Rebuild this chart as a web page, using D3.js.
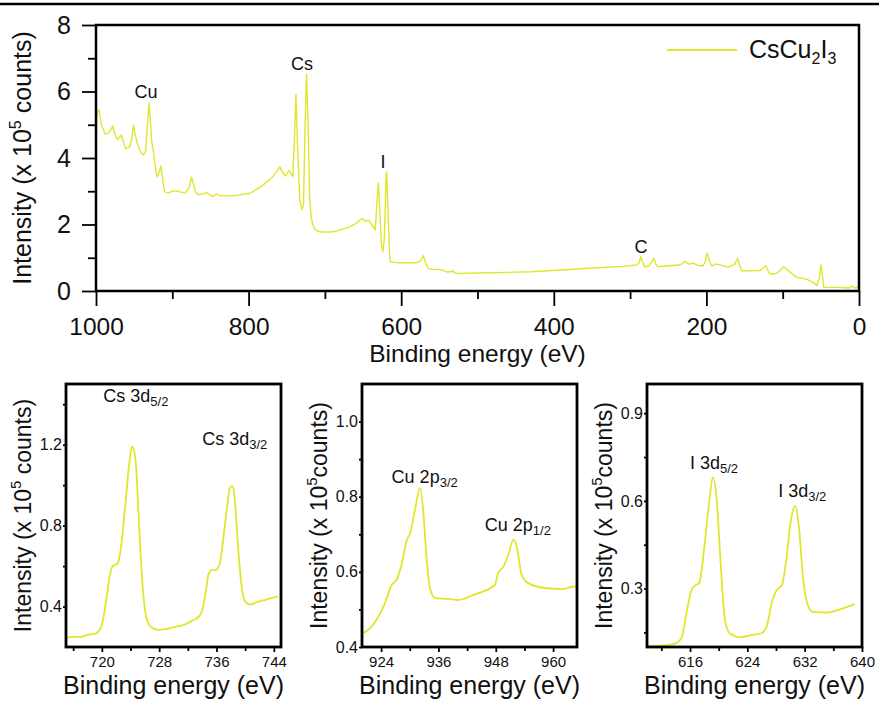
<!DOCTYPE html>
<html>
<head>
<meta charset="utf-8">
<script src="https://cdn.jsdelivr.net/npm/d3@7/dist/d3.min.js"></script>
<style>
    body { margin: 0; background: #fff; }
    svg { display: block; font-family: "Liberation Sans", Arial, sans-serif; }
</style>
</head>
<body>
<svg width="879" height="702"></svg>
<script>
// survey spectrum (eV, x 10^5 counts)
const surveyEnergy = [1000, 998, 996, 993, 988, 983, 978, 975, 972, 967, 963, 961, 956, 953, 951, 949, 946, 942, 938, 935,
    932, 930.5, 929, 927, 925, 922, 920, 917, 915, 913, 910, 905, 900, 894, 888, 883, 878, 875, 872, 869,
    865, 860, 855, 850, 847, 842, 838, 830, 820, 810, 798, 790, 780, 776, 770, 763, 759, 755, 752, 747,
    744, 742, 740, 738, 736, 733, 730, 728, 726, 724, 722, 720, 718, 716, 713, 707, 700, 689, 680, 667,
    660, 651, 647, 643, 638, 634, 632, 630, 628, 626, 624, 622, 620, 619, 617, 615, 614, 608, 602, 590,
    580, 575, 571, 568, 565, 560, 549, 539, 534, 532, 530, 527, 500, 460, 431, 390, 343, 310, 291, 288,
    286, 284, 281, 275, 271, 269, 266, 264, 250, 235, 230, 228, 225, 222, 218, 212, 205, 202, 199, 196,
    193, 189, 186, 180, 172, 169, 163, 159, 156, 154, 145, 135, 130, 125, 122, 119, 117, 112, 108, 103,
    99, 95, 88, 81, 74, 68, 60, 55, 52, 50, 48, 46, 40, 30, 20, 12, 9, 7, 5, 2, 0];
const surveyCounts = [5.05, 5.40, 5.45, 5.00, 4.72, 4.75, 4.96, 4.70, 4.55, 4.69, 4.40, 4.28, 4.33, 4.60, 4.99, 4.75, 4.45, 4.20, 4.09, 4.20,
    5.20, 5.65, 5.20, 4.50, 4.24, 3.70, 3.43, 3.60, 3.76, 3.40, 2.98, 2.95, 3.00, 3.01, 2.97, 2.95, 3.10, 3.42, 3.20, 2.95,
    2.89, 2.92, 2.96, 2.88, 2.84, 2.92, 2.87, 2.86, 2.86, 2.90, 2.94, 3.05, 3.20, 3.29, 3.40, 3.59, 3.74, 3.55, 3.46, 3.62,
    3.50, 3.44, 4.50, 5.91, 4.50, 2.74, 2.44, 2.60, 5.00, 6.52, 5.00, 2.80, 2.23, 2.00, 1.85, 1.78, 1.77, 1.78, 1.84, 1.93,
    2.02, 2.18, 2.09, 2.14, 1.98, 1.84, 2.60, 3.24, 2.40, 1.40, 1.18, 1.60, 3.30, 3.59, 2.20, 1.00, 0.88, 0.86, 0.85, 0.85,
    0.85, 0.90, 1.06, 0.85, 0.68, 0.65, 0.65, 0.57, 0.58, 0.61, 0.55, 0.53, 0.54, 0.56, 0.58, 0.63, 0.70, 0.74, 0.78, 0.85,
    1.03, 0.90, 0.73, 0.76, 0.90, 0.98, 0.80, 0.73, 0.76, 0.78, 0.85, 0.90, 0.83, 0.81, 0.84, 0.78, 0.75, 0.85, 1.14, 0.90,
    0.75, 0.80, 0.81, 0.77, 0.72, 0.75, 0.80, 0.98, 0.75, 0.61, 0.61, 0.62, 0.61, 0.70, 0.76, 0.60, 0.51, 0.52, 0.53, 0.63,
    0.73, 0.66, 0.52, 0.41, 0.38, 0.35, 0.25, 0.17, 0.40, 0.78, 0.45, 0.11, 0.11, 0.11, 0.10, 0.10, 0.15, 0.12, 0.08, 0.12, 0.18];
const surveyTicks = [1000, 800, 600, 400, 200, 0];
const surveyMinorTicks = [900, 700, 500, 300, 100];
const surveyYTicks = [0, 2, 4, 6, 8];
const surveyYMinorTicks = [1, 3, 5, 7];
const surveyLabels = ['Cu', 'Cs', 'I', 'C'];
const surveyLabelEnergy = [934.5, 730, 624, 285.7];
const surveyLabelCounts = [5.8, 6.65, 3.7, 1.14];

// Cs 3d
const csEnergy = [715, 716, 717, 718, 719, 719.8, 720.3, 720.6, 721.1, 721.5, 722.1, 722.5, 723.0, 723.4, 723.8, 724.2, 724.5, 724.8,
    725.2, 725.6, 726.0, 726.6, 727.3, 728.0, 729, 730.3, 731.5, 732.6, 733.5, 734.0, 734.4, 734.9, 735.3, 735.9, 736.5,
    737.0, 737.5, 737.9, 738.2, 738.5, 738.9, 739.5, 740.1, 740.8, 741.5, 742.5, 743.5, 744.6];
const csCounts = [0.245, 0.25, 0.25, 0.26, 0.265, 0.29, 0.36, 0.43, 0.55, 0.60, 0.61, 0.65, 0.80, 0.95, 1.10, 1.19, 1.17, 1.08,
    0.80, 0.55, 0.39, 0.31, 0.29, 0.285, 0.29, 0.30, 0.31, 0.33, 0.35, 0.38, 0.45, 0.56, 0.58, 0.58, 0.62,
    0.75, 0.90, 0.99, 0.995, 0.95, 0.75, 0.50, 0.42, 0.41, 0.42, 0.43, 0.44, 0.45];
const csXTicks = [720, 728, 736, 744];
const csXMinor = [716, 724, 732, 740];
const csYTicks = [0.4, 0.8, 1.2];
const csYMinor = [0.6, 1.0, 1.4];

// Cu 2p
const cuEnergy = [920.3, 921.7, 923.4, 924.8, 926.2, 927.3, 928.3, 929.4, 930.0, 931.1, 932.1, 932.8, 933.5, 934.2, 935.3,
    938.1, 940.1, 943.6, 947.8, 948.5, 949.6, 950.6, 951.7, 952.4, 953.4, 954.8, 958.3, 961.8, 964.4, 965];
const cuCounts = [0.437, 0.45, 0.48, 0.517, 0.565, 0.58, 0.62, 0.685, 0.70, 0.765, 0.823, 0.765, 0.64, 0.557, 0.53,
    0.528, 0.525, 0.54, 0.565, 0.597, 0.614, 0.645, 0.685, 0.667, 0.592, 0.57, 0.557, 0.554, 0.561, 0.56];
const cuXTicks = [924, 936, 948, 960];
const cuXMinor = [930, 942, 954];
const cuYTicks = [0.4, 0.6, 0.8, 1.0];
const cuYMinor = [0.5, 0.7, 0.9];

// I 3d
const iEnergy = [610.2, 613.7, 614.8, 615.5, 616.2, 616.7, 617.3, 617.9, 618.6, 619.2, 619.8, 620.3, 620.9, 621.6, 623.0,
    624.4, 626.0, 626.7, 627.4, 628.1, 628.8, 629.5, 630.0, 630.7, 631.2, 631.8, 632.5, 633.2, 635.1, 636.9, 639.0];
const iCounts = [0.103, 0.11, 0.13, 0.215, 0.295, 0.31, 0.32, 0.42, 0.58, 0.68, 0.58, 0.375, 0.19, 0.145, 0.133,
    0.14, 0.147, 0.17, 0.25, 0.295, 0.31, 0.41, 0.52, 0.583, 0.51, 0.33, 0.24, 0.22, 0.218, 0.229, 0.247];
const iXTicks = [616, 624, 632, 640];
const iXMinor = [612, 620, 628, 636];
const iYTicks = [0.3, 0.6, 0.9];
const iYMinor = [0.15, 0.45, 0.75];

// peak labels: [text, subscript, energy, counts]
const csPeaks = [['Cs 3d', '5/2', 720.2, 1.41], ['Cs 3d', '3/2', 734, 1.2]];
const cuPeaks = [['Cu 2p', '3/2', 926.2, 0.837], ['Cu 2p', '1/2', 945.7, 0.71]];
const iPeaks = [['I 3d', '5/2', 616, 0.708], ['I 3d', '3/2', 628.3, 0.613]];

(function () {
    const svg = d3.select('svg');
    const lineColor = '#e0e62c';

    const styleAxis = (g, fontSize) => {
        g.select('.domain').remove();
        g.selectAll('line').attr('stroke', '#000').attr('stroke-width', 1.8);
        g.selectAll('text')
            .attr('fill', '#111')
            .attr('font-size', fontSize)
            .attr('font-family', '"Liberation Sans", Arial, sans-serif');
    };

    const yTitle = (sel, baseX, midY, size, gap) => {
        const t = sel.append('text')
                .attr('transform', `translate(${baseX},${midY}) rotate(-90)`)
                .attr('text-anchor', 'middle')
                .attr('font-size', size)
                .attr('fill', '#111');
        t.append('tspan').text('Intensity (x 10');
        t.append('tspan').attr('font-size', size * 0.65).attr('dy', -size * 0.42).text('5');
        t.append('tspan').attr('dy', size * 0.42).text(gap ? ' counts)' : 'counts)');
    };

    svg.append('line')
            .attr('x1', 0).attr('x2', 879)
            .attr('y1', 4).attr('y2', 4)
            .attr('stroke', '#000')
            .attr('stroke-width', 2.5);

    // ---- survey ----
    const sx = d3.scaleLinear().domain([1000, 0]).range([96, 859]);
    const sy = d3.scaleLinear().domain([0, 8]).range([291, 25]);

    svg.append('g')
            .attr('transform', 'translate(0,291)')
            .call(d3.axisBottom(sx).tickValues(surveyMinorTicks).tickSize(8).tickFormat(''))
            .call(g => styleAxis(g, 24));
    svg.append('g')
            .attr('transform', 'translate(0,291)')
            .call(d3.axisBottom(sx).tickValues(surveyTicks).tickSize(15).tickFormat(d3.format('d')))
            .call(g => styleAxis(g, 24.5))
            .call(g => g.selectAll('text').attr('y', 44).attr('dy', 0));
    svg.append('g')
            .attr('transform', 'translate(96,0)')
            .call(d3.axisLeft(sy).tickValues(surveyYMinorTicks).tickSize(8).tickFormat(''))
            .call(g => styleAxis(g, 25));
    svg.append('g')
            .attr('transform', 'translate(96,0)')
            .call(d3.axisLeft(sy).tickValues(surveyYTicks).tickSize(14).tickPadding(11).tickFormat(d3.format('d')))
            .call(g => styleAxis(g, 25));

    svg.append('path')
            .datum(d3.zip(surveyEnergy, surveyCounts))
            .attr('fill', 'none')
            .attr('stroke', lineColor)
            .attr('stroke-width', 1.4)
            .attr('stroke-linejoin', 'round')
            .attr('d', d3.line().x(d => sx(d[0])).y(d => sy(d[1])));

    svg.append('rect')
            .attr('x', 96).attr('y', 25)
            .attr('width', 763).attr('height', 266)
            .attr('fill', 'none')
            .attr('stroke', '#000')
            .attr('stroke-width', 2.5);

    svg.append('g')
            .selectAll('text')
            .data(surveyLabels)
            .enter()
            .append('text')
            .attr('x', (d, i) => sx(surveyLabelEnergy[i]))
            .attr('y', (d, i) => sy(surveyLabelCounts[i]))
            .attr('text-anchor', 'middle')
            .attr('font-size', 18)
            .attr('fill', '#111')
            .text(d => d);

    svg.append('line')
            .attr('x1', 667).attr('x2', 737)
            .attr('y1', 50).attr('y2', 50)
            .attr('stroke', lineColor)
            .attr('stroke-width', 2);
    const legend = svg.append('text')
            .attr('x', 749).attr('y', 58)
            .attr('font-size', 25)
            .attr('fill', '#111');
    legend.append('tspan').text('CsCu');
    legend.append('tspan').attr('font-size', 16).attr('dy', 6).text('2');
    legend.append('tspan').attr('dy', -6).text('I');
    legend.append('tspan').attr('font-size', 16).attr('dy', 6).text('3');

    svg.append('text')
            .attr('x', (96 + 859) / 2).attr('y', 362)
            .attr('text-anchor', 'middle')
            .attr('font-size', 24.5)
            .attr('fill', '#111')
            .text('Binding energy (eV)');
    yTitle(svg, 31, 158, 25, true);

    // ---- detail panels ----
    const drawPanel = (p) => {
        const top = 384, bottom = 647;
        const x = d3.scaleLinear().domain(p.xDomain).range([p.left, p.left + 215]);
        const y = d3.scaleLinear().domain(p.yDomain).range([bottom, top]);
        const g = svg.append('g');

        g.append('g')
                .attr('transform', `translate(0,${bottom})`)
                .call(d3.axisBottom(x).tickValues(p.xMinor).tickSize(4).tickFormat(''))
                .call(a => styleAxis(a, 15));
        g.append('g')
                .attr('transform', `translate(0,${bottom})`)
                .call(d3.axisBottom(x).tickValues(p.xTicks).tickSize(5).tickFormat(d3.format('d')))
                .call(a => styleAxis(a, 15))
                .call(a => a.selectAll('text').attr('y', 20).attr('dy', 0));
        g.append('g')
                .attr('transform', `translate(${p.left},0)`)
                .call(d3.axisLeft(y).tickValues(p.yMinor).tickSize(3).tickFormat(''))
                .call(a => styleAxis(a, 16));
        g.append('g')
                .attr('transform', `translate(${p.left},0)`)
                .call(d3.axisLeft(y).tickValues(p.yTicks).tickSize(3).tickPadding(1).tickFormat(d3.format('.1f')))
                .call(a => styleAxis(a, 16));

        g.append('path')
                .datum(d3.zip(p.energy, p.counts))
                .attr('fill', 'none')
                .attr('stroke', lineColor)
                .attr('stroke-width', 1.8)
                .attr('stroke-linejoin', 'round')
                .attr('d', d3.line().curve(d3.curveMonotoneX).x(d => x(d[0])).y(d => y(d[1])));

        g.append('rect')
                .attr('x', p.left).attr('y', top)
                .attr('width', 215).attr('height', bottom - top)
                .attr('fill', 'none')
                .attr('stroke', '#000')
                .attr('stroke-width', 2.8);

        p.peaks.forEach(pk => {
            const t = g.append('text')
                    .attr('x', x(pk[2]))
                    .attr('y', y(pk[3]))
                    .attr('font-size', 18)
                    .attr('fill', '#111');
            t.append('tspan').text(pk[0]);
            t.append('tspan').attr('font-size', 13).attr('dy', 4).text(pk[1]);
        });

        g.append('text')
                .attr('x', p.left + 107.5).attr('y', 694)
                .attr('text-anchor', 'middle')
                .attr('font-size', 25)
                .attr('fill', '#111')
                .text('Binding energy (eV)');
        yTitle(g, p.left - 35, (top + bottom) / 2, 23, p.gap);
    };

    drawPanel({
        left: 66, xDomain: [715, 745], yDomain: [0.2, 1.5],
        xTicks: csXTicks, xMinor: csXMinor, yTicks: csYTicks, yMinor: csYMinor,
        energy: csEnergy, counts: csCounts, peaks: csPeaks, gap: true
    });
    drawPanel({
        left: 362, xDomain: [920, 965], yDomain: [0.4, 1.1],
        xTicks: cuXTicks, xMinor: cuXMinor, yTicks: cuYTicks, yMinor: cuYMinor,
        energy: cuEnergy, counts: cuCounts, peaks: cuPeaks, gap: false
    });
    drawPanel({
        left: 647, xDomain: [610, 640], yDomain: [0.1, 1.0],
        xTicks: iXTicks, xMinor: iXMinor, yTicks: iYTicks, yMinor: iYMinor,
        energy: iEnergy, counts: iCounts, peaks: iPeaks, gap: false
    });
})();
</script>
</body>
</html>
